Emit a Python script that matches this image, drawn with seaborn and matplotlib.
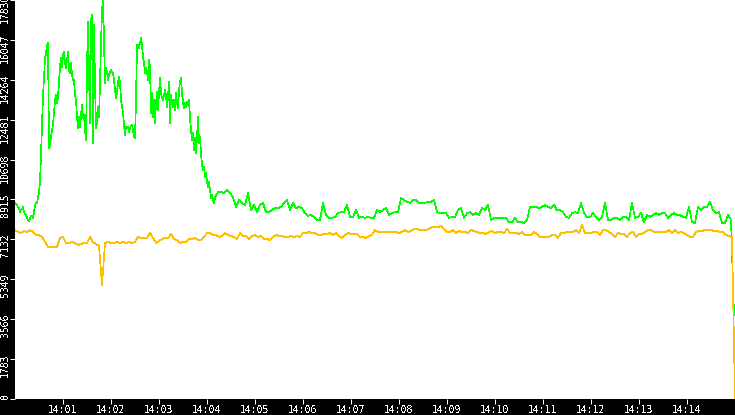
import numpy as np
import pandas as pd
import seaborn as sns
import matplotlib.pyplot as plt
from matplotlib.transforms import ScaledTranslation

# green series, first part sampled every 1.25 s from 14:00:00
green_early = [
    8760, 8715, 8670, 8580, 8535, 8355, 8445, 8490, 8580, 8355,
    8270, 8225, 8090, 8000, 7955, 8090, 8180, 8180, 8090, 8355,
    8670, 8760, 8760, 8980, 9250, 9700, 10905, 12245, 13585, 14345,
    15240, 15420, 15820, 15910, 11215, 11350, 11710, 12020, 12245, 12825,
    13360, 13585, 13230, 13495, 14165, 14835, 15240, 14835, 15370, 15505,
    15015, 14790, 15150, 15505, 14700, 14570, 15015, 14480, 14255, 14255,
    13585, 13360, 12600, 12110, 12600, 12155, 12690, 13140, 12555, 12690,
    12020, 11575, 14835, 16845, 14610, 12335, 16935, 17160, 11440, 16715,
    14120, 12110, 12335, 13050, 12600, 14120, 15955, 17250, 18050, 15955,
    14120, 14790, 14610, 14255, 14480, 14610, 14700, 14610, 14570, 14255,
    13810, 13450, 13720, 14120, 14390, 14165, 13360, 13050, 12825, 12245,
    11800, 12155, 12110, 12155, 11930, 12110, 12200, 12245, 12020, 11710,
    11665, 13360, 15820, 15820, 15685, 15910, 16130, 15820, 15285, 15015,
    14570, 14790, 14610, 14255, 15150, 14835, 12780, 13675, 12600, 13360,
    12335, 13230, 13720, 12915, 13675, 14345, 13675, 13450, 13360, 13585,
    13810, 13585, 13050, 13495, 14165, 12335, 13585, 13270, 13050, 13360,
    12915, 13675, 13230, 13005, 13810, 14165, 14345, 13675, 13270, 13005,
    13230, 13050, 13270, 13140, 13360, 12555, 12020, 11575, 11885, 11130,
    11665, 10995, 11710, 12600, 11440, 11710, 10995, 10455, 10235, 10365,
    9920, 10100, 9700, 9475, 9700, 9340, 8980, 9115, 8895, 8760,
    9025,
]

# green series, rest sampled every 3.75 s from 14:04:13.75
green_late = [
    9250, 9250, 9205, 9340, 9205, 9025, 8580, 8895, 8760, 8670,
    9205, 8445, 8670, 8355, 8670, 8760, 8355, 8355, 8445, 8535,
    8535, 8580, 8760, 8895, 8445, 8760, 8535, 8580, 8535, 8310,
    8180, 8225, 8135, 8000, 8000, 8760, 8225, 8090, 8090, 8135,
    8310, 8355, 8355, 8670, 8135, 8135, 8445, 8090, 8135, 8090,
    8135, 8090, 8090, 8445, 8355, 8445, 8535, 8225, 8310, 8355,
    8355, 8980, 8895, 8805, 8760, 8895, 8895, 8760, 8760, 8760,
    8805, 8805, 8895, 8355, 8310, 8310, 8310, 8090, 8135, 8135,
    8445, 8535, 8090, 8310, 8355, 8225, 8310, 8225, 8535, 8445,
    8670, 8000, 8090, 8090, 8090, 8090, 8090, 7910, 7910, 8090,
    7910, 7910, 7865, 8000, 8580, 8580, 8580, 8535, 8580, 8670,
    8580, 8535, 8670, 8445, 8445, 8355, 8135, 8090, 8310, 8355,
    8310, 8760, 8310, 8135, 8135, 8310, 8135, 8000, 8135, 8760,
    8000, 8000, 8090, 8090, 8000, 8135, 8135, 8000, 8760, 8090,
    8135, 8310, 7910, 8225, 8135, 8225, 8310, 8225, 8310, 8310,
    8090, 8225, 8310, 8225, 8225, 8135, 8090, 8580, 7910, 7865,
    8580, 8445, 8580, 8580, 8805, 8445, 8310, 8355, 7865, 7865,
    8225, 8000, 3755,
]

# yellow series, every 3.75 s from 14:00:00
yellow = [
    7553, 7463, 7419, 7508, 7463, 7553, 7463, 7329, 7329, 7240,
    7016, 6793, 6793, 6793, 6793, 7195, 7240, 6972, 6972, 7016,
    6972, 6882, 6927, 6972, 6972, 7240, 7016, 6927, 6838, 5095,
    6972, 7016, 6972, 6972, 7016, 6972, 7016, 6972, 7016, 6972,
    7016, 7240, 7195, 7195, 7195, 7419, 7195, 6972, 7061, 7150,
    7195, 7195, 7374, 7150, 7106, 6972, 7016, 7016, 7150, 7150,
    7195, 7106, 7106, 7240, 7419, 7419, 7329, 7329, 7240, 7284,
    7419, 7329, 7284, 7240, 7150, 7419, 7284, 7284, 7150, 7284,
    7329, 7240, 7284, 7150, 7150, 7106, 7240, 7329, 7284, 7284,
    7240, 7240, 7284, 7240, 7284, 7240, 7419, 7419, 7463, 7419,
    7419, 7329, 7329, 7374, 7374, 7419, 7329, 7419, 7284, 7195,
    7329, 7419, 7374, 7374, 7374, 7240, 7240, 7195, 7284, 7329,
    7553, 7463, 7463, 7463, 7463, 7463, 7463, 7463, 7419, 7463,
    7553, 7463, 7508, 7597, 7597, 7553, 7553, 7553, 7597, 7687,
    7687, 7687, 7731, 7597, 7463, 7463, 7553, 7419, 7508, 7463,
    7463, 7419, 7553, 7508, 7463, 7419, 7419, 7374, 7463, 7508,
    7419, 7463, 7463, 7419, 7597, 7419, 7419, 7419, 7374, 7463,
    7329, 7329, 7329, 7463, 7374, 7240, 7240, 7240, 7240, 7329,
    7329, 7195, 7419, 7419, 7463, 7463, 7463, 7553, 7419, 7776,
    7419, 7419, 7419, 7463, 7463, 7329, 7553, 7553, 7463, 7374,
    7240, 7419, 7374, 7374, 7240, 7419, 7463, 7240, 7374, 7374,
    7463, 7553, 7553, 7463, 7463, 7463, 7463, 7463, 7553, 7419,
    7553, 7419, 7463, 7419, 7329, 7240, 7240, 7463, 7508, 7508,
    7553, 7553, 7553, 7508, 7508, 7463, 7463, 7329, 7284, 7240,
    0,
]

y_ticks = [0, 1783, 3566, 5349, 7132, 8915, 10698, 12481, 14264, 16047, 17830]
x_tick_labels = ["14:01", "14:02", "14:03", "14:04", "14:05", "14:06", "14:07",
                 "14:08", "14:09", "14:10", "14:11", "14:12", "14:13", "14:14"]

GREEN = "#00ff00"
YELLOW = "#ffc000"

# seconds since 14:00
t_green = np.concatenate([np.arange(len(green_early)) * 1.25,
                          253.75 + np.arange(len(green_late)) * 3.75])
t_yellow = np.arange(len(yellow)) * 3.75

df = pd.concat([
    pd.DataFrame({"t": t_green, "value": green_early + green_late, "series": "green"}),
    pd.DataFrame({"t": t_yellow, "value": yellow, "series": "yellow"}),
], ignore_index=True)

sns.set_style("white")
plt.rcParams["font.family"] = ["DejaVu Sans Mono"]
plt.rcParams["text.antialiased"] = False

fig = plt.figure(figsize=(7.35, 4.15), dpi=100, facecolor="black")
ax = fig.add_axes([15 / 735, 16 / 415, 720 / 735, 399 / 415])
sns.lineplot(data=df, x="t", y="value", hue="series",
             palette={"green": GREEN, "yellow": YELLOW},
             estimator=None, sort=False, legend=False,
             linewidth=0.5, antialiased=False, ax=ax)

ax.set_xlim(0, 900)
ax.set_ylim(0, 17830)
ax.set_facecolor("white")
for s in ax.spines.values():
    s.set_visible(False)
ax.set_xlabel("")
ax.set_ylabel("")

ax.set_xticks(np.arange(60, 900, 60), x_tick_labels)
ax.set_yticks(y_ticks, [str(v) for v in y_ticks])
ax.tick_params(bottom=True, left=True, colors="white", length=3.6, width=0.72,
               labelsize=7, direction="out")
ax.tick_params(axis="y", pad=0, labelrotation=90)
ax.tick_params(axis="x", pad=1)

# y labels end a few pixels above their tick
shift = ScaledTranslation(0, 6 / 100, fig.dpi_scale_trans)
for lab in ax.get_yticklabels():
    lab.set_va("top")
    lab.set_transform(lab.get_transform() + shift)

fig.savefig("out.png", dpi=100, facecolor="black")
